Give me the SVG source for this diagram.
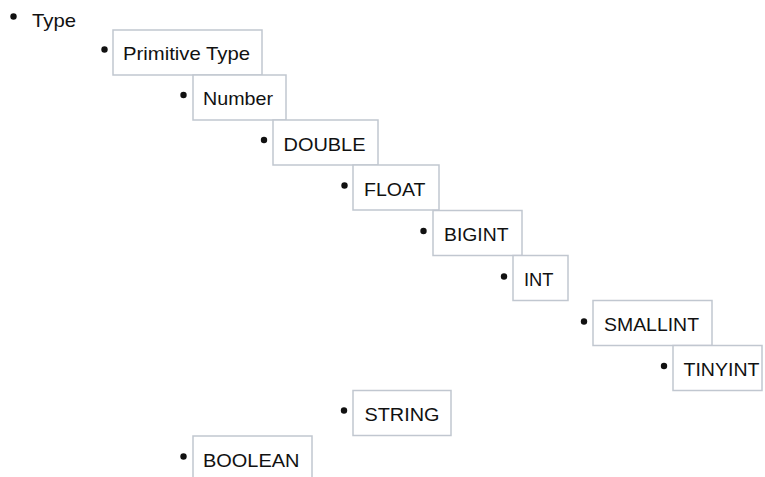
<svg xmlns="http://www.w3.org/2000/svg" width="765" height="477" viewBox="0 0 765 477">
<style>
.box{fill:#ffffff;stroke:#c1c7d0;stroke-width:1.5}
.t{font-family:"Liberation Sans",Arial,sans-serif;font-size:18.5px;fill:#111111}
.b{fill:#111111}
</style>
<rect width="765" height="477" fill="#ffffff"/>
<g id="connectors"/>
<g id="type">
<circle class="b" cx="13.5" cy="16.5" r="3.2"/>
<text class="t" x="32" y="26.5" textLength="44" lengthAdjust="spacingAndGlyphs">Type</text>
</g>
<g id="primitive-type">
<rect class="box" x="113" y="30" width="149" height="45"/>
<circle class="b" cx="104.5" cy="49.5" r="3.2"/>
<text class="t" x="123" y="60" textLength="127" lengthAdjust="spacingAndGlyphs">Primitive Type</text>
</g>
<g id="number">
<rect class="box" x="193" y="75" width="93" height="45"/>
<circle class="b" cx="183.5" cy="95" r="3.2"/>
<text class="t" x="203" y="105" textLength="70" lengthAdjust="spacingAndGlyphs">Number</text>
</g>
<g id="double">
<rect class="box" x="273" y="120" width="105" height="45"/>
<circle class="b" cx="264" cy="140" r="3.2"/>
<text class="t" x="283.5" y="151" textLength="82" lengthAdjust="spacingAndGlyphs">DOUBLE</text>
</g>
<g id="float">
<rect class="box" x="353" y="165" width="86" height="45"/>
<circle class="b" cx="344.5" cy="185.5" r="3.2"/>
<text class="t" x="364" y="196" textLength="61.5" lengthAdjust="spacingAndGlyphs">FLOAT</text>
</g>
<g id="bigint">
<rect class="box" x="433" y="210.5" width="89" height="45"/>
<circle class="b" cx="423.5" cy="231" r="3.2"/>
<text class="t" x="444" y="241" textLength="64.5" lengthAdjust="spacingAndGlyphs">BIGINT</text>
</g>
<g id="int">
<rect class="box" x="513" y="255.5" width="55" height="45"/>
<circle class="b" cx="504" cy="276.5" r="3.2"/>
<text class="t" x="524" y="286" textLength="29.5" lengthAdjust="spacingAndGlyphs">INT</text>
</g>
<g id="smallint">
<rect class="box" x="593" y="300.5" width="119" height="45"/>
<circle class="b" cx="584" cy="321.5" r="3.2"/>
<text class="t" x="604" y="331" textLength="95" lengthAdjust="spacingAndGlyphs">SMALLINT</text>
</g>
<g id="tinyint">
<rect class="box" x="673" y="345.5" width="89" height="45"/>
<circle class="b" cx="664" cy="366" r="3.2"/>
<text class="t" x="683.5" y="376" textLength="76" lengthAdjust="spacingAndGlyphs">TINYINT</text>
</g>
<g id="string">
<rect class="box" x="353" y="390.5" width="98" height="45"/>
<circle class="b" cx="344" cy="410.5" r="3.2"/>
<text class="t" x="364.5" y="421" textLength="75" lengthAdjust="spacingAndGlyphs">STRING</text>
</g>
<g id="boolean">
<rect class="box" x="193" y="436" width="119" height="50"/>
<circle class="b" cx="183.5" cy="456.5" r="3.2"/>
<text class="t" x="203" y="466.5" textLength="96.5" lengthAdjust="spacingAndGlyphs">BOOLEAN</text>
</g>
</svg>
